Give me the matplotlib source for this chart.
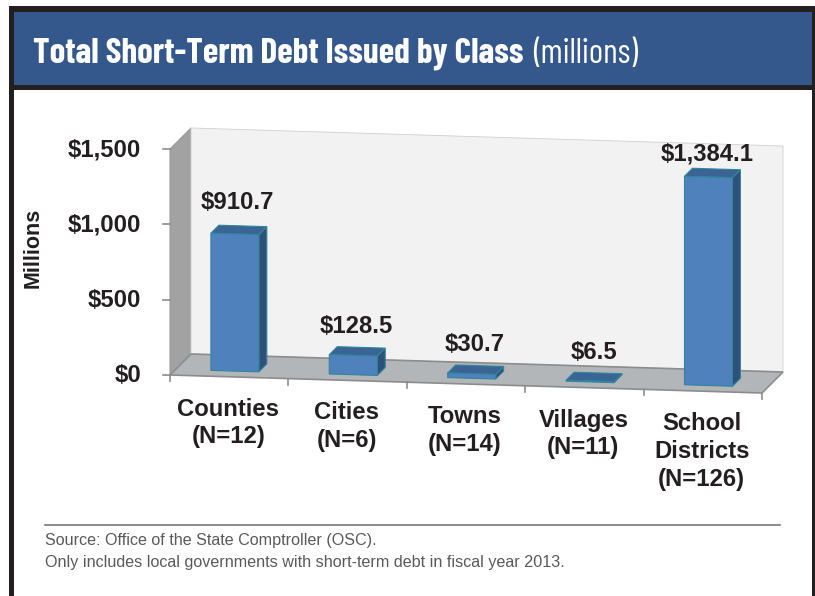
import matplotlib
matplotlib.use('Agg')
import matplotlib.pyplot as plt
from matplotlib.patches import Rectangle

# data
categories = ['Counties\n(N=12)', 'Cities\n(N=6)', 'Towns\n(N=14)', 'Villages\n(N=11)', 'School\nDistricts\n(N=126)']
debt = [910.7, 128.5, 30.7, 6.5, 1384.1]
y_ticks = [0, 500, 1000, 1500]
y_tick_labels = ['$0', '$500', '$1,000', '$1,500']
# hand placement of the value labels relative to the bar top, px
label_gap = [23, 21, 21, 20, 15]
label_shift = [-6, -5, -5, -4, -9]

title_bold = 'Total Short-Term Debt Issued by Class'
title_light = '(millions)'
source_lines = ['Source: Office of the State Comptroller (OSC).',
                'Only includes local governments with short-term debt in fiscal year 2013.']

# fake 3d chart box, in pixels
X0, Y0 = 170, 375
CAT_W = 118.4
V_SCALE = 226 / 1500
TILT = 0.0304
DEPTH = 21


def proj(c, v, d=0):
    # category position, value, depth (0 front, 1 back) -> pixel
    x = X0 + CAT_W * c + DEPTH * d
    y = Y0 + TILT * CAT_W * c - V_SCALE * v - DEPTH * d
    return x, y


def face(ax, pts, color, edge='none', lw=0.8, z=2):
    xs, ys = zip(*[proj(*p) for p in pts])
    ax.fill(xs, ys, facecolor=color, edgecolor=edge, linewidth=lw, zorder=z, joinstyle='miter')


plt.rcParams['font.family'] = ['Liberation Sans', 'DejaVu Sans']
DARK = '#231F20'
TITLE_FONT = ['Barlow Condensed', 'Liberation Sans']

fig = plt.figure(figsize=(8.15, 5.96), dpi=100)
ax = fig.add_axes([0, 0, 1, 1])
ax.set_xlim(0, 815)
ax.set_ylim(596, 0)
ax.axis('off')

# page frame and title band
ax.add_patch(Rectangle((9, 6), 815, 700, facecolor='white', edgecolor='none', zorder=0))
ax.add_patch(Rectangle((9, 6), 5, 700, facecolor=DARK, zorder=1))
ax.add_patch(Rectangle((812, 6), 3, 700, facecolor=DARK, zorder=1))
ax.add_patch(Rectangle((9, 6), 806, 84, facecolor=DARK, zorder=1))
ax.add_patch(Rectangle((14, 12), 798, 73, facecolor='#34588C', zorder=2))

ax.text(33, 63, title_bold, color='white', fontsize=25.4, fontweight='bold',
        family=TITLE_FONT, va='baseline', ha='left', zorder=3)
ax.text(533, 63, title_light, color='white', fontsize=24.5, fontweight='normal',
        family=TITLE_FONT, va='baseline', ha='left', zorder=3)

# walls and floor
n = len(debt)
top = y_ticks[-1]
face(ax, [(0, 0, 0), (0, top, 0), (0, top, 1), (0, 0, 1)], '#A2A2A2', '#9A9A9A')
face(ax, [(0, 0, 1), (0, top, 1), (n, top, 1), (n, 0, 1)], '#F2F2F2', '#D0D0D0', lw=0.6)
face(ax, [(0, 0, 0), (0, 0, 1), (n, 0, 1), (n, 0, 0)], '#B2B6B9', '#8C8C8C', lw=1.2)

# ticks
for v, lab in zip(y_ticks, y_tick_labels):
    x, y = proj(0, v)
    ax.plot([x - 7, x], [y, y], color='#8C8C8C', lw=1.2, zorder=3)
    ax.text(141, y + 1, lab, ha='right', va='center', fontsize=17.2, fontweight='bold', color=DARK, zorder=5)
for i in range(n + 1):
    x, y = proj(i, 0)
    ax.plot([x, x], [y, y + 6], color='#8C8C8C', lw=1.2, zorder=3)

# bars
bw = 0.405
d0, d1 = 0.27, 0.65
bar_edge = '#31859C'
for i, v in enumerate(debt):
    l, r = i + 0.5 - bw / 2, i + 0.5 + bw / 2
    face(ax, [(r, 0, d0), (r, 0, d1), (r, v, d1), (r, v, d0)], '#2F5078', bar_edge, z=6)
    face(ax, [(l, v, d0), (l, v, d1), (r, v, d1), (r, v, d0)], '#3A6493', bar_edge, z=6)
    face(ax, [(l, 0, d0), (r, 0, d0), (r, v, d0), (l, v, d0)], '#4F81BD', bar_edge, z=6)
    bx, by = proj(i + 0.5, v, d1)
    ax.text(bx + label_shift[i], by - label_gap[i], f'${v:,.1f}', ha='center', va='center', fontsize=17.2,
            fontweight='bold', color=DARK, zorder=7)

# category labels
for i, lab in enumerate(categories):
    x, y = proj(i + 0.5, 0)
    ax.text(x - 1, y + 21, lab, ha='center', va='top', fontsize=17.2, fontweight='bold',
            color=DARK, linespacing=1.26, zorder=5)

ax.text(33, 248, 'Millions', rotation=90, ha='center', va='center', fontsize=15.5,
        fontweight='bold', color=DARK, zorder=5)

# source note
ax.plot([45, 780], [525, 525], color='#6D6E70', lw=1.1, zorder=3)
for yy, line in zip([540, 562], source_lines):
    ax.text(45, yy, line, ha='left', va='center', fontsize=11.63, color='#58595B', zorder=3)

fig.savefig('out.png', dpi=100)
